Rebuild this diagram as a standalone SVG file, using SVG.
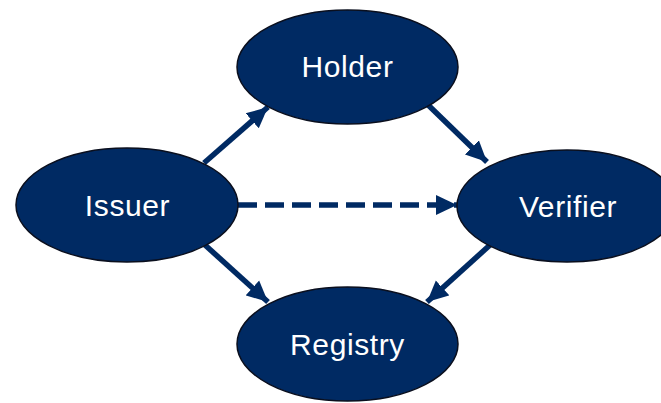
<svg xmlns="http://www.w3.org/2000/svg" width="661" height="403" viewBox="0 0 661 403">
<defs>
<style>
.node ellipse{fill:#002a63;stroke:#0a0f1e;stroke-width:1.5}
.node text{fill:#ffffff;font-family:"Liberation Sans",Arial,sans-serif;font-size:30px;letter-spacing:0.6px;text-anchor:middle}
.edge{stroke:#002a63;stroke-width:5.5;fill:none}
.dash{stroke-dasharray:19 8}
</style>
<marker id="ah" markerUnits="userSpaceOnUse" markerWidth="22" markerHeight="22" viewBox="0 0 22 22" refX="21" refY="11" orient="auto">
<path d="M0,1 L21,11 L0,21 Z" fill="#002a63"/>
</marker>
</defs>
<g id="connectors">
<line class="edge" x1="204" y1="163" x2="268" y2="107" marker-end="url(#ah)"/>
<line class="edge" x1="424" y1="101" x2="487" y2="162" marker-end="url(#ah)"/>
<line class="edge" x1="205" y1="245" x2="268" y2="302" marker-end="url(#ah)"/>
<line class="edge" x1="490" y1="245" x2="427" y2="302" marker-end="url(#ah)"/>
<line class="edge dash" x1="238" y1="205" x2="457" y2="205" marker-end="url(#ah)"/>
</g>
<g id="holder" class="node">
<ellipse cx="347.5" cy="67" rx="110.5" ry="57"/>
<text x="347.5" y="77">Holder</text>
</g>
<g id="issuer" class="node">
<ellipse cx="127" cy="205" rx="111" ry="57"/>
<text x="127.5" y="215.5">Issuer</text>
</g>
<g id="verifier" class="node">
<ellipse cx="567" cy="206" rx="110" ry="56"/>
<text x="568" y="216.5">Verifier</text>
</g>
<g id="registry" class="node">
<ellipse cx="347.5" cy="344" rx="110.5" ry="57"/>
<text x="347.5" y="354.5">Registry</text>
</g>
</svg>
